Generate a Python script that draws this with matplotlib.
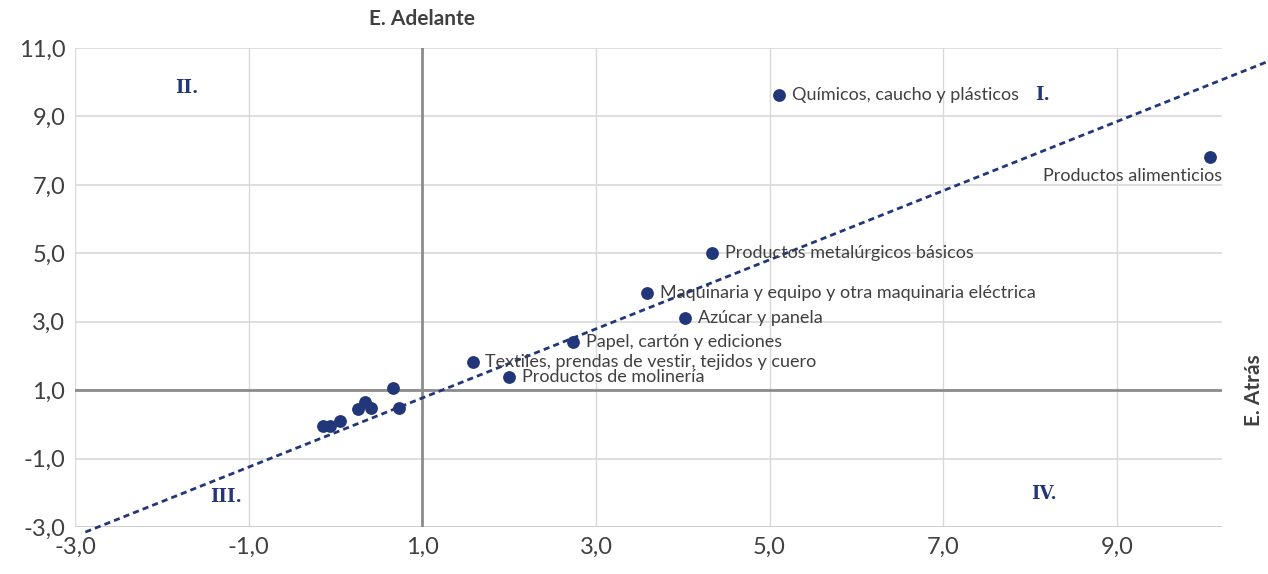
import numpy as np
import matplotlib
matplotlib.use("Agg")
from matplotlib import pyplot as plt

# data
adelante = [5.11, 10.07, 4.34, 3.59, 4.03, 2.74, 1.58, 2.00,
            0.66, 0.73, 0.34, 0.26, 0.41, 0.05, -0.06, -0.14]
atras = [9.63, 7.80, 5.00, 3.85, 3.10, 2.41, 1.81, 1.39,
         1.06, 0.47, 0.65, 0.44, 0.47, 0.09, -0.05, -0.05]
labels = ["Químicos, caucho y plásticos", "Productos alimenticios",
          "Productos metalúrgicos básicos",
          "Maquinaria y equipo y otra maquinaria eléctrica",
          "Azúcar y panela", "Papel, cartón y ediciones",
          "Textiles, prendas de vestir, tejidos y cuero",
          "Productos de molinería",
          "", "", "", "", "", "", "", ""]
trend_slope = 1.01
trend_intercept = -0.24
ticks = [-3, -1, 1, 3, 5, 7, 9]
yticks = [-3, -1, 1, 3, 5, 7, 9, 11]
quadrants = [("I.", 8.14, 9.63), ("II.", -1.71, 9.83),
             ("III.", -1.26, -2.13), ("IV.", 8.16, -2.04)]

NAVY = "#22367a"
TXT = "#404040"

plt.rcParams['font.family'] = ['Lato', 'DejaVu Sans']

fig = plt.figure(figsize=(12.68, 5.74), dpi=100)
ax = fig.add_axes([0.0591, 0.0819, 0.9046, 0.8345])
ax.set_xlim(-3, 10.21)
ax.set_ylim(-3, 11)

for t in ticks:
    ax.axvline(t, color="#d9d9d9", lw=1, zorder=0)
for t in yticks:
    ax.axhline(t, color="#d9d9d9", lw=1.2, zorder=0)
ax.axhline(-3, color="#cccccc", lw=2, zorder=0)
ax.axvline(1, color="#8c8c8c", lw=2, zorder=1)
ax.axhline(1, color="#8c8c8c", lw=2, zorder=1)

for s in ax.spines.values():
    s.set_visible(False)

ax.set_xticks(ticks)
ax.set_yticks(yticks)
ax.set_xticklabels([f"{t:.1f}".replace(".", ",") for t in ticks])
ax.set_yticklabels([f"{t:.1f}".replace(".", ",") for t in yticks])
ax.tick_params(length=0, labelsize=17, colors=TXT, pad=7)

# trend line, extended to the figure edge
xs = np.array([-2.88, 10.74])
ax.plot(xs, trend_slope * xs + trend_intercept, color=NAVY, lw=2,
        dashes=(2.2, 1.5), clip_on=False, zorder=2)

ax.scatter(adelante, atras, s=85, color=NAVY, zorder=3, linewidths=0)

for i, lab in enumerate(labels):
    if not lab:
        continue
    if lab == "Productos alimenticios":
        ax.annotate(lab, (adelante[i], atras[i]), xytext=(9, -13),
                    textcoords="offset points", ha="right", va="center",
                    fontsize=13, color=TXT)
    else:
        ax.annotate(lab, (adelante[i], atras[i]), xytext=(9, 0),
                    textcoords="offset points", ha="left", va="center",
                    fontsize=13, color=TXT)

for q, qx, qy in quadrants:
    ax.text(qx, qy, q, ha="center", va="center", fontsize=13,
            fontweight="bold", family="DejaVu Serif", color=NAVY)

ax.text(1, 11.55, "E. Adelante", ha="center", va="bottom", fontsize=15,
        fontweight="bold", color=TXT)
ax.text(10.58, 1, "E. Atrás", ha="center", va="center", rotation=90,
        fontsize=15, fontweight="bold", color=TXT, clip_on=False)

fig.savefig("out.png", dpi=100)
